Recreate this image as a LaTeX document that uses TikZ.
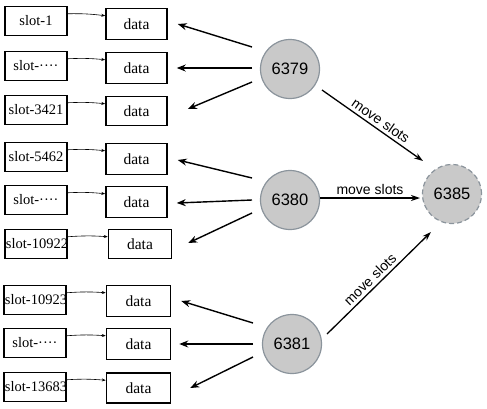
\documentclass[tikz,border=0pt]{standalone}
\usepackage{fontspec}
\setmainfont{Liberation Serif}
\newfontfamily\numfont{Liberation Sans}
\usetikzlibrary{arrows.meta,calc}
\definecolor{srvfill}{HTML}{C9C9C9}
\definecolor{srvline}{HTML}{8B949C}
\begin{document}
\begin{tikzpicture}[x=1pt,y=-1pt,
  box/.style={draw, line width=1.5pt, minimum width=62pt, minimum height=29pt, inner sep=0pt},
  txt/.style={font=\fontsize{14.5}{16}\selectfont, inner sep=0pt},
  dtxt/.style={font=\fontsize{15.5}{17}\selectfont, inner sep=0pt},
  link/.style={line width=0.6pt, -{Stealth[length=4pt,width=3pt]}},
  ptr/.style={line width=1.4pt, -{Stealth[length=9pt,width=7pt]}},
  srv/.style={circle, draw=srvline, fill=srvfill, line width=1.2pt, minimum size=59pt, inner sep=0pt, font=\numfont\fontsize{16.5}{18}\selectfont},
  mv/.style={line width=1.3pt, -{Stealth[length=9pt,width=6pt]}},
  mvlab/.style={font=\numfont\fontsize{14}{16}\selectfont, sloped, above, inner sep=3pt}]
\useasboundingbox (0,0) rectangle (487,408);

% slot boxes
\node[box] (s1) at (36,21) {};  \node[txt] (t1) at (s1) {slot-1};
\node[box] (s2) at (36,66) {};  \node[txt] (t2) at (s2) {slot-····};
\node[box] (s3) at (36,110) {}; \node[txt] (t3) at (s3) {slot-3421};
\node[box] (s4) at (36,157) {}; \node[txt] (t4) at (s4) {slot-5462};
\node[box] (s5) at (36,200) {}; \node[txt] (t5) at (s5) {slot-····};
\node[box] (s6) at (36,244) {}; \node[txt] (t6) at (37,244) {slot-10922};
\node[box] (s7) at (35,300) {}; \node[txt] (t7) at (36,300) {slot-10923};
\node[box] (s8) at (35,343) {}; \node[txt] (t8) at (s8) {slot-····};
\node[box] (s9) at (35,387) {}; \node[txt] (t9) at (36,387) {slot-13683};

% data boxes
\node[box, minimum width=61pt, minimum height=31pt, dtxt] (d1) at (136.5,24) {data};
\node[box, minimum width=61pt, minimum height=31pt, dtxt] (d2) at (136.5,68) {data};
\node[box, minimum width=61pt, minimum height=29pt, dtxt] (d3) at (136.5,111) {data};
\node[box, minimum width=61pt, minimum height=31pt, dtxt] (d4) at (136.5,159) {data};
\node[box, minimum width=61pt, minimum height=31pt, dtxt] (d5) at (136.5,202) {data};
\node[box, minimum width=63pt, minimum height=29pt, dtxt] (d6) at (140,244) {data};
\node[box, minimum width=64pt, minimum height=31pt, dtxt] (d7) at (138.5,301) {data};
\node[box, minimum width=64pt, minimum height=31pt, dtxt] (d8) at (138.5,344) {data};
\node[box, minimum width=64pt, minimum height=30pt, dtxt] (d9) at (138.5,388) {data};

% slot -> data links
\foreach \i in {1,...,9}{
  \draw[link] ([yshift=-8pt]s\i.north east) to[bend left=4] ([yshift=-8pt]d\i.north west);
}

% servers
\node[srv] (c1) at (290,69) {6379};
\node[srv] (c2) at (290,200) {6380};
\node[srv] (c3) at (292,344) {6381};
\node[srv, dashed, dash pattern=on 5pt off 3pt] (c5) at (452,194) {6385};

% server -> data pointers
\draw[ptr] ($(c1)+(-38,-22)$) -- ([xshift=10pt]d1.east);
\draw[ptr] ($(c1)+(-38,-1)$) -- ([xshift=9pt]d2.east);
\draw[ptr] ($(c1)+(-38,13)$) -- ([xshift=20pt,yshift=2pt]d3.east);
\draw[ptr] ($(c2)+(-38,-22)$) -- ([xshift=10pt,yshift=-1pt]d4.east);
\draw[ptr] ($(c2)+(-38,0)$) -- ([xshift=9pt,yshift=-1pt]d5.east);
\draw[ptr] ($(c2)+(-38,13)$) -- ([xshift=16pt,yshift=1pt]d6.east);
\draw[ptr] ($(c3)+(-39,-21)$) -- ([xshift=10pt]d7.east);
\draw[ptr] ($(c3)+(-39,0)$) -- ([xshift=8pt]d8.east);
\draw[ptr] ($(c3)+(-39,13)$) -- ([xshift=19pt]d9.east);

% move slots
\draw[mv] ($(c1)+(32,21)$) -- node[mvlab, xshift=4pt] {move slots} ($(c5)+(-29,-33)$);
\draw[mv] ($(c2)+(30,-2)$) -- node[mvlab] {move slots} ($(c5)+(-32,4)$);
\draw[mv] ($(c3)+(35,-10)$) -- node[mvlab, xshift=-4pt] {move slots} ($(c5)+(-21,38)$);
\end{tikzpicture}
\end{document}
